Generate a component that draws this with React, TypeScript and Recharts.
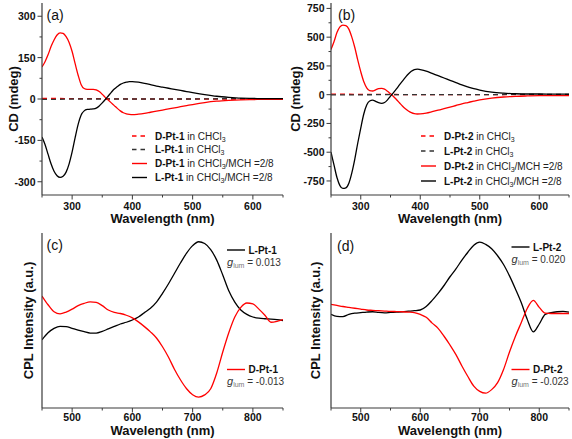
import React from 'react';
import { LineChart, Line, XAxis, YAxis, Label } from 'recharts';

const FONT = '"Liberation Sans", Arial, Helvetica, sans-serif';
const RED = '#ff0000';
const BLACK = '#000000';
const AXIS = '#3a3a3a';

// (a)/(b) CD spectra in CHCl3/MCH = 2/8
const cdWl = [250, 255, 260, 265, 270, 275, 280, 285, 290, 295, 300, 305, 310, 315, 320, 325, 330, 335, 340, 345, 350, 355, 360, 365, 370, 375, 380, 385, 390, 395, 400, 410, 420, 430, 440, 450, 460, 470, 480, 490, 500, 520, 540, 560, 580, 600, 625, 650];
const dPt1Agg = [116, 135, 160, 190, 214, 232, 240, 238, 226, 205, 172, 128, 86, 52, 38, 35, 35, 35, 33, 27, 17, 6, -4, -14, -24, -34, -43, -50, -54, -56, -57, -55, -52, -48, -44, -40, -36, -32, -28, -24, -20, -13, -8, -5, -3, -2, -1, -1];
const lPt1Agg = [-138, -165, -200, -235, -262, -278, -284, -280, -265, -235, -192, -140, -92, -58, -43, -38, -37, -36, -33, -25, -14, -2, 11, 24, 36, 45, 53, 58, 61, 63, 63, 61, 57, 52, 47, 43, 39, 35, 31, 27, 23, 16, 10, 6, 3, 2, 1, 1];
const dPt2Agg = [393, 460, 540, 590, 605, 600, 570, 500, 410, 300, 200, 115, 60, 35, 32, 42, 52, 55, 48, 30, 8, -15, -42, -70, -98, -122, -142, -156, -165, -168, -167, -160, -148, -135, -122, -108, -94, -80, -68, -56, -45, -30, -20, -14, -11, -9, -9, -9];
const lPt2Agg = [-500, -610, -720, -790, -815, -810, -770, -680, -560, -420, -290, -170, -90, -55, -48, -58, -70, -75, -68, -45, -12, 18, 50, 85, 118, 150, 180, 203, 218, 223, 218, 205, 185, 165, 145, 125, 105, 85, 68, 52, 40, 22, 13, 8, 6, 6, 5, 5];

// CD spectra in pure CHCl3 (flat)
const solvWl = [250, 275, 300, 350, 400, 450, 500, 550, 600, 650];
const dPt1Sol = [2, 2, 1, 1, 0, 0, 0, 0, 0, 0];
const lPt1Sol = [-1, -1, 0, 0, 0, 0, 0, 1, 1, 1];
const dPt2Sol = [5, 4, 3, 2, 0, 0, 0, 0, 0, 0];
const lPt2Sol = [-2, -2, -1, 0, 0, 0, 0, 2, 2, 2];

// (c)/(d) CPL, arbitrary units
const cplWl = [450, 460, 470, 480, 490, 500, 510, 520, 530, 540, 550, 560, 570, 580, 590, 600, 610, 620, 630, 640, 650, 660, 670, 680, 690, 700, 710, 720, 730, 740, 750, 760, 770, 780, 790, 800, 810, 820, 830, 840, 850];
const lPt1Cpl = [39, 43, 45.5, 46.7, 46.5, 45.5, 44.5, 43.6, 42.8, 42.8, 43.8, 45.2, 46.6, 48, 49, 50.3, 52, 54.5, 57, 60.5, 65.5, 71, 77, 83, 88.5, 92.8, 95, 94, 90.5, 84.5, 76, 67, 60.5, 56, 53.5, 52, 51.3, 51, 50.8, 50.5, 50];
const dPt1Cpl = [64, 59, 55, 53.8, 54.8, 56.5, 58.5, 59.8, 60.6, 60.3, 58.5, 56, 54.6, 54, 53, 51.5, 49.2, 46.5, 43.5, 40, 35, 29, 22, 16, 11, 7.6, 6.2, 7.5, 11, 20, 32, 43, 52, 57.5, 60, 59.5, 56.5, 53, 49, 49.5, 50.5];
const lPt2Cpl = [53.5, 52.3, 52.2, 53.5, 54.2, 54.5, 54.8, 55, 54.6, 54.4, 54.6, 54.8, 55, 55.3, 55.6, 56, 58, 61.5, 65.5, 70, 75, 79.5, 84.5, 89, 93, 94.8, 93.5, 91, 87, 82, 75.5, 68, 60, 50.5, 43.5, 48, 53.5, 54.5, 55, 55.2, 54.8];
const dPt2Cpl = [59.2, 58.6, 58, 57.5, 57, 56.5, 56, 55.8, 55.6, 55.4, 55.2, 55.1, 55, 54.8, 54.5, 53.5, 51.8, 48.5, 45.5, 41, 36, 30.5, 24, 18, 12.5, 9.5, 8.5, 10.5, 14.5, 22, 32, 41, 49, 57, 61.5, 57.5, 54.2, 54, 54, 54, 54];

// ticks
const cdXTicks = [250, 300, 350, 400, 450, 500, 550, 600, 650];
const cdXMajor = [300, 400, 500, 600];
const cd1YTicks = [-300, -225, -150, -75, 0, 75, 150, 225, 300];
const cd1YMajor = [-300, -150, 0, 150, 300];
const cd2YTicks = [-750, -625, -500, -375, -250, -125, 0, 125, 250, 375, 500, 625, 750];
const cd2YMajor = [-750, -500, -250, 0, 250, 500, 750];
const cplXTicks = [450, 500, 550, 600, 650, 700, 750, 800, 850];
const cplXMajor = [500, 600, 700, 800];

type Series = { name: string; xs: number[]; ys: number[]; color: string; dashed?: boolean };

const makeRows = (xs: number[], ys: number[]) => xs.map((x, i) => ({ x, y: ys[i] }));

function tickRenderer(side: 'bottom' | 'left', majors: number[], labelDy = 14.5) {
  return (props: any) => {
    const { x, y, payload } = props;
    const major = majors.includes(payload.value);
    const len = major ? 4.5 : 2.5;
    if (side === 'bottom') {
      return (
        <g>
          <line x1={x} x2={x} y1={y} y2={y + len} stroke={AXIS} strokeWidth={1} />
          {major && (
            <text x={x} y={y + labelDy} textAnchor="middle" fontSize={10.5} fontWeight="bold" fill="#111" fontFamily={FONT}>
              {payload.value}
            </text>
          )}
        </g>
      );
    }
    return (
      <g>
        <line x1={x} x2={x - len} y1={y} y2={y} stroke={AXIS} strokeWidth={1} />
        {major && (
          <text x={x - 6.5} y={y + 4} textAnchor="end" fontSize={10.5} fontWeight="bold" fill="#111" fontFamily={FONT}>
            {payload.value}
          </text>
        )}
      </g>
    );
  };
}

type PanelProps = {
  left: number;
  top: number;
  width: number;
  height: number;
  plot: { l: number; t: number; r: number; b: number };
  xDomain: [number, number];
  xTicks: number[];
  xMajor: number[];
  xTickDy: number;
  yDomain: [number, number];
  yTicks?: number[];
  yMajor?: number[];
  yTitle: string;
  yTitleX: number;
  xTitleY: number;
  series: Series[];
};

function Panel(p: PanelProps) {
  const { plot } = p;
  const yMid = (plot.t + plot.b) / 2;
  return (
    <div style={{ position: 'absolute', left: p.left, top: p.top }}>
      <LineChart width={p.width} height={p.height} margin={{ top: plot.t, right: p.width - plot.r, bottom: 0, left: 0 }}>
        <XAxis
          type="number"
          dataKey="x"
          domain={p.xDomain}
          ticks={p.xTicks}
          interval={0}
          allowDataOverflow
          tick={tickRenderer('bottom', p.xMajor, p.xTickDy)}
          tickLine={false}
          tickSize={0}
          tickMargin={0}
          height={p.height - plot.b}
          stroke={AXIS}
          strokeWidth={1.2}
        >
          <Label
            content={() => (
              <text x={(plot.l + plot.r) / 2} y={p.xTitleY} textAnchor="middle" dominantBaseline="central" fontSize={13} fontWeight="bold" fill="#111" fontFamily={FONT}>
                Wavelength (nm)
              </text>
            )}
          />
        </XAxis>
        <XAxis xAxisId="top" orientation="top" type="number" domain={p.xDomain} tick={false} tickLine={false} height={0} stroke={AXIS} strokeWidth={1.2} />
        <YAxis
          type="number"
          domain={p.yDomain}
          ticks={p.yTicks}
          interval={0}
          allowDataOverflow
          tick={p.yTicks ? tickRenderer('left', p.yMajor || []) : false}
          tickLine={false}
          tickSize={0}
          tickMargin={0}
          width={plot.l}
          stroke={AXIS}
          strokeWidth={1.2}
        >
          <Label
            content={() => (
              <text
                x={p.yTitleX}
                y={yMid}
                transform={`rotate(-90 ${p.yTitleX} ${yMid})`}
                textAnchor="middle"
                dominantBaseline="central"
                fontSize={13}
                fontWeight="bold"
                fill="#111"
                fontFamily={FONT}
              >
                {p.yTitle}
              </text>
            )}
          />
        </YAxis>
        <YAxis yAxisId="right" orientation="right" domain={[0, 1]} tick={false} tickLine={false} width={0} stroke={AXIS} strokeWidth={1.2} />
        {p.series.map((s) => (
          <Line
            key={s.name}
            data={makeRows(s.xs, s.ys)}
            dataKey="y"
            type="monotone"
            stroke={s.color}
            strokeWidth={1.3}
            strokeDasharray={s.dashed ? '5 4' : undefined}
            dot={false}
            activeDot={false}
            isAnimationActive={false}
          />
        ))}
      </LineChart>
    </div>
  );
}

function CdLegendRow({ x, y, color, dashed, name, mix }: { x: number; y: number; color: string; dashed?: boolean; name: string; mix?: boolean }) {
  return (
    <g>
      <line x1={x} x2={x + 15} y1={y} y2={y} stroke={color} strokeWidth={1.4} strokeDasharray={dashed ? '4.5 4' : undefined} />
      <text x={x + 23} y={y + 3.5} fontSize={10} fill="#222" fontFamily={FONT}>
        <tspan fontWeight="bold" fill="#111">{name}</tspan>
        <tspan> in CHCl</tspan>
        <tspan fontSize={7} dy={2}>3</tspan>
        {mix && <tspan dy={-2}>/MCH =2/8</tspan>}
      </text>
    </g>
  );
}

function CplLegend({ x, y, color, name, g }: { x: number; y: number; color: string; name: string; g: string }) {
  return (
    <g>
      <line x1={x} x2={x + 18} y1={y} y2={y} stroke={color} strokeWidth={1.4} />
      <text x={x + 21.5} y={y + 3.5} fontSize={10} fontWeight="bold" fill="#111" fontFamily={FONT}>{name}</text>
      <text x={x} y={y + 15.5} fontSize={10} fill="#333" fontFamily={FONT}>
        <tspan fontStyle="italic" fontSize={11}>g</tspan>
        <tspan fontSize={7} dy={2} fill="#777">lum</tspan>
        <tspan dy={-2}> = {g}</tspan>
      </text>
    </g>
  );
}

export default function App() {
  return (
    <div style={{ position: 'absolute', left: 0, top: 0, width: 572, height: 439, background: '#fff', overflow: 'hidden' }}>
      <Panel
        left={0}
        top={0}
        width={290}
        height={228}
        plot={{ l: 42, t: 3, r: 283, b: 195 }}
        xDomain={[250, 650]}
        xTicks={cdXTicks}
        xMajor={cdXMajor}
        xTickDy={14.5}
        yDomain={[-348, 348]}
        yTicks={cd1YTicks}
        yMajor={cd1YMajor}
        yTitle="CD (mdeg)"
        yTitleX={13}
        xTitleY={218.5}
        series={[
          { name: 'dSol', xs: solvWl, ys: dPt1Sol, color: RED, dashed: true },
          { name: 'lSol', xs: solvWl, ys: lPt1Sol, color: '#333', dashed: true },
          { name: 'dAgg', xs: cdWl, ys: dPt1Agg, color: RED },
          { name: 'lAgg', xs: cdWl, ys: lPt1Agg, color: BLACK },
        ]}
      />
      <Panel
        left={286}
        top={0}
        width={286}
        height={228}
        plot={{ l: 45, t: 3, r: 283, b: 195 }}
        xDomain={[250, 650]}
        xTicks={cdXTicks}
        xMajor={cdXMajor}
        xTickDy={14.5}
        yDomain={[-872, 797]}
        yTicks={cd2YTicks}
        yMajor={cd2YMajor}
        yTitle="CD (mdeg)"
        yTitleX={9.5}
        xTitleY={218.5}
        series={[
          { name: 'dSol', xs: solvWl, ys: dPt2Sol, color: RED, dashed: true },
          { name: 'lSol', xs: solvWl, ys: lPt2Sol, color: '#333', dashed: true },
          { name: 'dAgg', xs: cdWl, ys: dPt2Agg, color: RED },
          { name: 'lAgg', xs: cdWl, ys: lPt2Agg, color: BLACK },
        ]}
      />
      <Panel
        left={0}
        top={222}
        width={290}
        height={217}
        plot={{ l: 42, t: 11, r: 283, b: 186 }}
        xDomain={[450, 850]}
        xTicks={cplXTicks}
        xMajor={cplXMajor}
        xTickDy={13}
        yDomain={[0, 100]}
        yTitle="CPL Intensity (a.u.)"
        yTitleX={28}
        xTitleY={208.5}
        series={[
          { name: 'l', xs: cplWl, ys: lPt1Cpl, color: BLACK },
          { name: 'd', xs: cplWl, ys: dPt1Cpl, color: RED },
        ]}
      />
      <Panel
        left={286}
        top={222}
        width={286}
        height={217}
        plot={{ l: 45, t: 11, r: 283, b: 186 }}
        xDomain={[450, 850]}
        xTicks={cplXTicks}
        xMajor={cplXMajor}
        xTickDy={13}
        yDomain={[0, 100]}
        yTitle="CPL Intensity (a.u.)"
        yTitleX={29}
        xTitleY={208.5}
        series={[
          { name: 'l', xs: cplWl, ys: lPt2Cpl, color: BLACK },
          { name: 'd', xs: cplWl, ys: dPt2Cpl, color: RED },
        ]}
      />
      <svg width={572} height={439} style={{ position: 'absolute', left: 0, top: 0, pointerEvents: 'none' }}>
        <g fontFamily={FONT} fontSize={14} fill="#111">
          <text x={46.5} y={19.5}>(a)</text>
          <text x={338} y={19.5}>(b)</text>
          <text x={46.5} y={249.5}>(c)</text>
          <text x={337} y={251}>(d)</text>
        </g>
        <CdLegendRow x={132} y={136} color={RED} dashed name="D-Pt-1" />
        <CdLegendRow x={132} y={149.5} color="#333" dashed name="L-Pt-1" />
        <CdLegendRow x={132} y={163.5} color={RED} name="D-Pt-1" mix />
        <CdLegendRow x={132} y={177.5} color={BLACK} name="L-Pt-1" mix />
        <CdLegendRow x={421} y={136} color={RED} dashed name="D-Pt-2" />
        <CdLegendRow x={421} y={151} color="#333" dashed name="L-Pt-2" />
        <CdLegendRow x={421} y={166} color={RED} name="D-Pt-2" mix />
        <CdLegendRow x={421} y={181} color={BLACK} name="L-Pt-2" mix />
        <CplLegend x={227} y={250} color={BLACK} name="L-Pt-1" g="0.013" />
        <CplLegend x={227} y={369.5} color={RED} name="D-Pt-1" g="-0.013" />
        <CplLegend x={511.5} y={247} color={BLACK} name="L-Pt-2" g="0.020" />
        <CplLegend x={511.5} y={369.5} color={RED} name="D-Pt-2" g="-0.023" />
      </svg>
    </div>
  );
}
